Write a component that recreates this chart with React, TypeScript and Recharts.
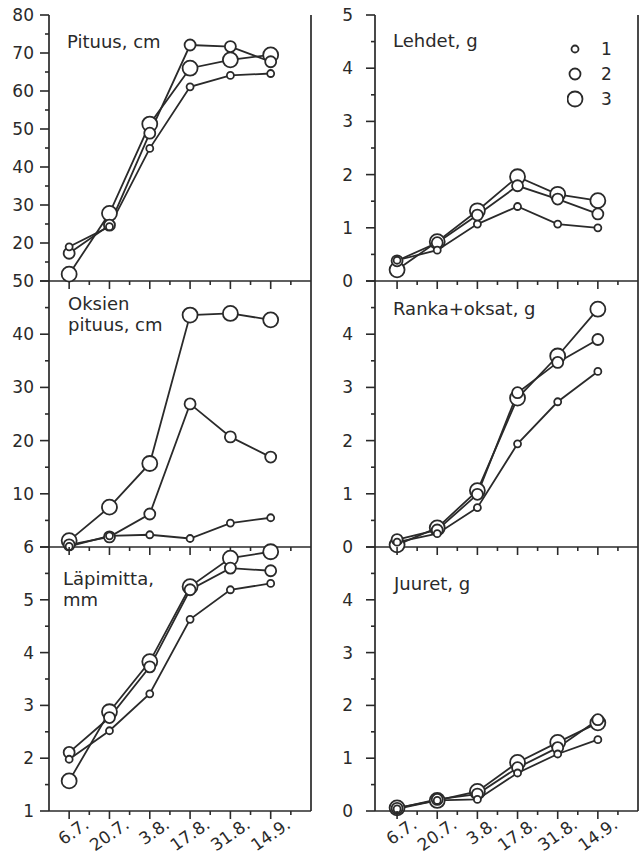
import { LineChart, Line, XAxis, YAxis, Legend } from 'recharts';

// sampling dates (x index 0..5)
const dates = ['6.7.', '20.7.', '3.8.', '17.8.', '31.8.', '14.9.'];
const seriesNames = ['1', '2', '3'];

const pituus1 = [19.0, 24.3, 44.9, 61.1, 64.1, 64.6];
const pituus2 = [17.3, 24.7, 48.9, 72.1, 71.7, 67.7];
const pituus3 = [11.8, 27.8, 51.3, 66.0, 68.2, 69.5];

const lehdet1 = [0.39, 0.58, 1.07, 1.4, 1.07, 1.0];
const lehdet2 = [0.38, 0.72, 1.24, 1.79, 1.54, 1.26];
const lehdet3 = [0.21, 0.74, 1.32, 1.96, 1.63, 1.51];

const oksat1 = [0.1, 2.1, 2.3, 1.6, 4.5, 5.5];
const oksat2 = [0.4, 1.9, 6.2, 26.9, 20.7, 16.9];
const oksat3 = [1.2, 7.5, 15.7, 43.6, 43.9, 42.7];

const ranka1 = [0.09, 0.25, 0.74, 1.94, 2.73, 3.3];
const ranka2 = [0.14, 0.32, 0.99, 2.9, 3.47, 3.9];
const ranka3 = [0.04, 0.36, 1.06, 2.8, 3.59, 4.47];

const lapimitta1 = [1.98, 2.52, 3.22, 4.63, 5.19, 5.31];
const lapimitta2 = [2.11, 2.77, 3.73, 5.19, 5.6, 5.55];
const lapimitta3 = [1.57, 2.88, 3.83, 5.25, 5.79, 5.91];

const juuret1 = [0.04, 0.2, 0.22, 0.72, 1.08, 1.35];
const juuret2 = [0.05, 0.22, 0.32, 0.82, 1.2, 1.73];
const juuret3 = [0.06, 0.2, 0.37, 0.92, 1.3, 1.67];

const INK = '#2a2a2a';
const FONT = '"DejaVu Sans", Arial, sans-serif';
const markerR = [3.5, 5.5, 7.5];

const range = (a: number, b: number, step: number) => {
  const out: number[] = [];
  for (let v = a; v <= b + 1e-9; v += step) out.push(Math.round(v * 100) / 100);
  return out;
};

const xMajor = [0, 1, 2, 3, 4, 5];
const xTicks = range(0, 5.5, 0.5);

// column / row geometry
const cols = [
  { left: 0, width: 322, yW: 49, rW: 11, gap: 15, xDomain: [-0.5, 6] },
  { left: 322, width: 322, yW: 53, rW: 6, gap: 22, xDomain: [-0.55, 6] },
];
const rows = [
  { top: 0, mTop: 15, plotH: 266, xH: 10 },
  { top: 271, mTop: 10, plotH: 266, xH: 10 },
  { top: 537, mTop: 10, plotH: 264, xH: 52 },
];

const panels = [
  { col: 0, row: 0, title: ['Pituus, cm'], tdx: 18, tdy: 33, s: [pituus1, pituus2, pituus3], domain: [10, 80], step: 10, labels: range(20, 80, 10) },
  { col: 1, row: 0, title: ['Lehdet, g'], tdx: 18, tdy: 32, s: [lehdet1, lehdet2, lehdet3], domain: [0, 5], step: 1, labels: range(0, 5, 1), legend: true },
  { col: 0, row: 1, title: ['Oksien', 'pituus, cm'], tdx: 19, tdy: 29, s: [oksat1, oksat2, oksat3], domain: [0, 50], step: 10, labels: range(10, 50, 10) },
  { col: 1, row: 1, title: ['Ranka+oksat, g'], tdx: 18, tdy: 34, s: [ranka1, ranka2, ranka3], domain: [0, 5], step: 1, labels: range(0, 4, 1) },
  { col: 0, row: 2, title: ['Läpimitta,', 'mm'], tdx: 14, tdy: 38, s: [lapimitta1, lapimitta2, lapimitta3], domain: [1, 6], step: 1, labels: range(1, 6, 1) },
  { col: 1, row: 2, title: ['Juuret, g'], tdx: 19, tdy: 43, s: [juuret1, juuret2, juuret3], domain: [0, 5], step: 1, labels: range(0, 4, 1) },
];

const isMajor = (v: number, step: number, base: number) => Math.abs(((v - base) / step) - Math.round((v - base) / step)) < 1e-6;

function LeftTick(props: any) {
  const { x, y, payload, step, base, labels, gap } = props;
  const v = payload.value;
  const major = isMajor(v, step, base);
  return (
    <g>
      <line x1={x} x2={x - (major ? 9 : 4)} y1={y} y2={y} stroke={INK} strokeWidth={1.6} />
      {major && labels.includes(v) ? (
        <text x={x - gap} y={y} textAnchor="end" dominantBaseline="central" fontSize={17} fontFamily={FONT} fill={INK}>
          {v}
        </text>
      ) : null}
    </g>
  );
}

function RightTick(props: any) {
  const { x, y, payload, step, base } = props;
  const major = isMajor(payload.value, step, base);
  return <line x1={x} x2={x + (major ? 9 : 4)} y1={y} y2={y} stroke={INK} strokeWidth={1.6} />;
}

function BottomTick(props: any) {
  const { x, y, payload, showLabel } = props;
  const v = payload.value;
  const major = xMajor.includes(v);
  const tx = x + 21;
  const ty = y + 16;
  return (
    <g>
      <line x1={x} x2={x} y1={y} y2={y + (major ? 8 : 4)} stroke={INK} strokeWidth={1.6} />
      {showLabel && major ? (
        <text x={tx} y={ty} textAnchor="end" fontSize={17} fontFamily={FONT} fill={INK} transform={`rotate(-35 ${tx} ${ty})`}>
          {dates[v]}
        </text>
      ) : null}
    </g>
  );
}

function LegendBox() {
  return (
    <svg width={60} height={80}>
      {seriesNames.map((n, i) => (
        <g key={n}>
          <circle cx={8} cy={12 + i * 25} r={markerR[i]} fill="#fff" stroke={INK} strokeWidth={1.8} />
          <text x={34} y={12 + i * 25} dominantBaseline="central" fontSize={17} fontFamily={FONT} fill={INK}>
            {n}
          </text>
        </g>
      ))}
    </svg>
  );
}

function Panel({ p }: { p: (typeof panels)[number] }) {
  const c = cols[p.col];
  const r = rows[p.row];
  const data = dates.map((d, i) => ({ x: i, date: d, s1: p.s[0][i], s2: p.s[1][i], s3: p.s[2][i] }));
  const yTicks = range(p.domain[0], p.domain[1], p.step / 2);
  const height = r.mTop + r.plotH + r.xH;
  const axisLine = { stroke: INK, strokeWidth: 1.7 };
  return (
    <div style={{ position: 'absolute', left: c.left, top: r.top }}>
      <LineChart width={c.width} height={height} data={data} margin={{ top: r.mTop, right: 0, bottom: 0, left: 0 }}>
        <XAxis
          dataKey="x"
          type="number"
          domain={c.xDomain}
          ticks={xTicks}
          interval={0}
          height={r.xH}
          tickSize={0}
          tickMargin={0}
          tickLine={false}
          axisLine={axisLine}
          tick={(tp: any) => <BottomTick {...tp} showLabel={p.row === 2} />}
        />
        <XAxis xAxisId="top" orientation="top" type="number" domain={c.xDomain} height={0} tick={false} tickLine={false} axisLine={axisLine} />
        <YAxis
          type="number"
          domain={p.domain}
          ticks={yTicks}
          interval={0}
          width={c.yW}
          tickSize={0}
          tickMargin={0}
          tickLine={false}
          axisLine={axisLine}
          tick={(tp: any) => <LeftTick {...tp} step={p.step} base={p.domain[0]} labels={p.labels} gap={c.gap} />}
        />
        <YAxis
          yAxisId="r"
          orientation="right"
          type="number"
          domain={p.domain}
          ticks={yTicks}
          interval={0}
          width={c.rW}
          tickSize={0}
          tickMargin={0}
          tickLine={false}
          axisLine={axisLine}
          tick={(tp: any) => <RightTick {...tp} step={p.step} base={p.domain[0]} />}
        />
        {['s3', 's2', 's1'].map((k) => {
          const idx = Number(k[1]) - 1;
          return (
            <Line
              key={k}
              dataKey={k}
              name={seriesNames[idx]}
              stroke={INK}
              strokeWidth={1.8}
              dot={{ r: markerR[idx], fill: '#fff', stroke: INK, strokeWidth: 1.8 }}
              activeDot={false}
              isAnimationActive={false}
            />
          );
        })}
        {p.legend ? (
          <Legend
            layout="vertical"
            align="center"
            verticalAlign="middle"
            wrapperStyle={{ top: 37, left: 245, width: 60, height: 80 }}
            content={() => <LegendBox />}
          />
        ) : null}
      </LineChart>
    </div>
  );
}

export default function App() {
  return (
    <div style={{ position: 'absolute', left: 0, top: 0, width: 644, height: 859, background: '#fff', overflow: 'hidden' }}>
      {panels.map((p, i) => (
        <Panel key={i} p={p} />
      ))}
      <svg width={644} height={859} style={{ position: 'absolute', left: 0, top: 0, pointerEvents: 'none' }}>
        {panels.map((p, i) => {
          const c = cols[p.col];
          const r = rows[p.row];
          const x0 = c.left + c.yW + p.tdx;
          const y0 = r.top + r.mTop + p.tdy;
          return (
            <text key={i} x={x0} y={y0} fontSize={18} fontFamily={FONT} fill={INK}>
              {p.title.map((t, j) => (
                <tspan key={j} x={x0} y={y0 + j * 21}>
                  {t}
                </tspan>
              ))}
            </text>
          );
        })}
      </svg>
    </div>
  );
}
